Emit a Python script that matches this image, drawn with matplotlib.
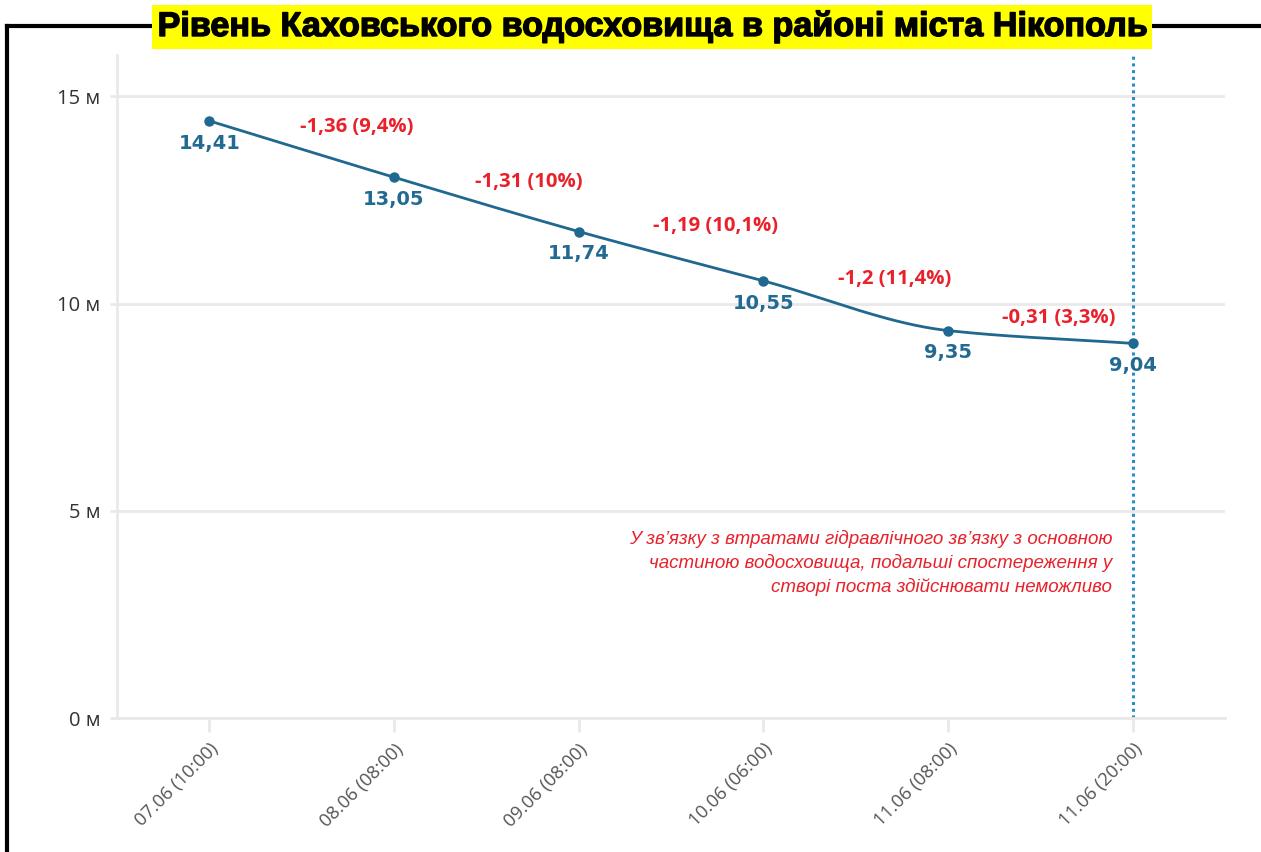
import numpy as np
import matplotlib
matplotlib.use("Agg")
import matplotlib.pyplot as plt
from matplotlib.lines import Line2D
import matplotlib.patheffects as pe

# ---------------- data ----------------
categories = ["07.06 (10:00)", "08.06 (08:00)", "09.06 (08:00)",
              "10.06 (06:00)", "11.06 (08:00)", "11.06 (20:00)"]
levels = [14.41, 13.05, 11.74, 10.55, 9.35, 9.04]
level_labels = ["14,41", "13,05", "11,74", "10,55", "9,35", "9,04"]
change_labels = ["-1,36 (9,4%)", "-1,31 (10%)", "-1,19 (10,1%)",
                 "-1,2 (11,4%)", "-0,31 (3,3%)"]
y_ticks = [0, 5, 10, 15]
y_tick_labels = ["0 м", "5 м", "10 м", "15 м"]
title = "Рівень Каховського водосховища в районі міста Нікополь"
note = ("У зв\u02bcязку з втратами гідравлічного зв\u02bcязку з основною\n"
        "частиною водосховища, подальші спостереження у\n"
        "створі поста здійснювати неможливо")

# ---------------- style ----------------
LINE_C = "#1f6890"
LABEL_C = "#236a93"
RED = "#e8212b"
GRID_C = "#e9e9e9"
DOT_C = "#2a8dc8"

W, H = 1261, 852
fig = plt.figure(figsize=(W / 100, H / 100), dpi=100)
ax = fig.add_axes([117 / W, 1 - 718 / H, (1225 - 117) / W, (718 - 55) / H])

x = np.arange(len(levels))
y = np.array(levels, dtype=float)


def monotone_cubic(xk, yk, n=40):
    h = np.diff(xk)
    d = np.diff(yk) / h
    m = np.zeros_like(yk)
    m[0], m[-1] = d[0], d[-1]
    for k in range(1, len(xk) - 1):
        if d[k - 1] * d[k] <= 0:
            m[k] = 0
        else:
            w1 = 2 * h[k] + h[k - 1]
            w2 = h[k] + 2 * h[k - 1]
            m[k] = (w1 + w2) / (w1 / d[k - 1] + w2 / d[k])
    xs, ys = [], []
    for k in range(len(xk) - 1):
        t = np.linspace(0, 1, n)
        h00 = 2 * t**3 - 3 * t**2 + 1
        h10 = t**3 - 2 * t**2 + t
        h01 = -2 * t**3 + 3 * t**2
        h11 = t**3 - t**2
        xs.append(xk[k] + t * h[k])
        ys.append(h00 * yk[k] + h10 * h[k] * m[k] + h01 * yk[k + 1] + h11 * h[k] * m[k + 1])
    return np.concatenate(xs), np.concatenate(ys)


xs, ys = monotone_cubic(x.astype(float), y)
ax.plot(xs, ys, color=LINE_C, lw=2.0, zorder=3, solid_capstyle="round")
ax.plot(x, y, "o", color=LINE_C, ms=6.5, zorder=4)

# vertical dotted marker at last point
ax.axvline(x[-1], color=DOT_C, lw=2.2, ls=(0, (1, 1.2)), zorder=2)

ax.set_xlim(-0.5, len(levels) - 0.5)
ax.set_ylim(0, 16)
ax.set_yticks(y_ticks)
ax.set_yticklabels(y_tick_labels)
ax.set_xticks(x)
ax.set_xticklabels(categories, rotation=45, ha="right", rotation_mode="anchor")

for s in ["top", "right"]:
    ax.spines[s].set_visible(False)
for s in ["left", "bottom"]:
    ax.spines[s].set_color(GRID_C)
    ax.spines[s].set_linewidth(2)
ax.grid(axis="y", color=GRID_C, lw=2)
ax.set_axisbelow(True)
ax.tick_params(axis="y", length=5, width=2, color=GRID_C, labelsize=14.5,
               labelcolor="#333333", pad=7)
ax.tick_params(axis="x", length=10, width=2, color=GRID_C, labelsize=13.2,
               labelcolor="#555555", pad=6)
for lab in ax.get_yticklabels() + ax.get_xticklabels():
    lab.set_family(["Open Sans", "DejaVu Sans"])

# value labels under points
for xi, yi, lab in zip(x, y, level_labels):
    ax.annotate(lab, (xi, yi), xytext=(0, -16), textcoords="offset points",
                ha="center", va="center", color=LABEL_C, fontsize=14,
                fontweight="bold", family=["DejaVu Sans"], zorder=5)

# change labels between points
dx = [0.30, 0.23, 0.24, 0.21, 0.10]
dy_pts = [16, 16, 22, 19, 14]
for i, lab in enumerate(change_labels):
    xm = (x[i] + x[i + 1]) / 2 + dx[i]
    ym = (y[i] + y[i + 1]) / 2
    ax.annotate(lab, (xm, ym), xytext=(0, dy_pts[i]), textcoords="offset points",
                ha="center", va="center", color=RED, fontsize=14.6,
                fontweight="bold", family=["Open Sans", "DejaVu Sans"], zorder=5)

# note
ax.text(x[-1] - 0.11, 3.74, note, ha="right", va="center", color=RED,
        fontsize=13.5, style="italic", family=["Liberation Sans", "DejaVu Sans"],
        linespacing=1.45)

# frame lines
fig.add_artist(Line2D([7 / W, 7 / W], [0, 1 - 26 / H], transform=fig.transFigure,
                      color="black", lw=3, solid_capstyle="projecting"))
fig.add_artist(Line2D([7 / W, 1], [1 - 26 / H, 1 - 26 / H], transform=fig.transFigure,
                      color="black", lw=3, solid_capstyle="projecting"))

# title
fig.text(652 / W, 1 - 27 / H, title, ha="center", va="center", fontsize=24.6,
         fontweight="bold", family=["Liberation Sans", "DejaVu Sans"], color="black",
         bbox=dict(boxstyle="square,pad=0.17", fc="#ffff00", ec="none"), zorder=10,
         path_effects=[pe.withStroke(linewidth=1.0, foreground="black")])

fig.savefig("out.png", dpi=100)
